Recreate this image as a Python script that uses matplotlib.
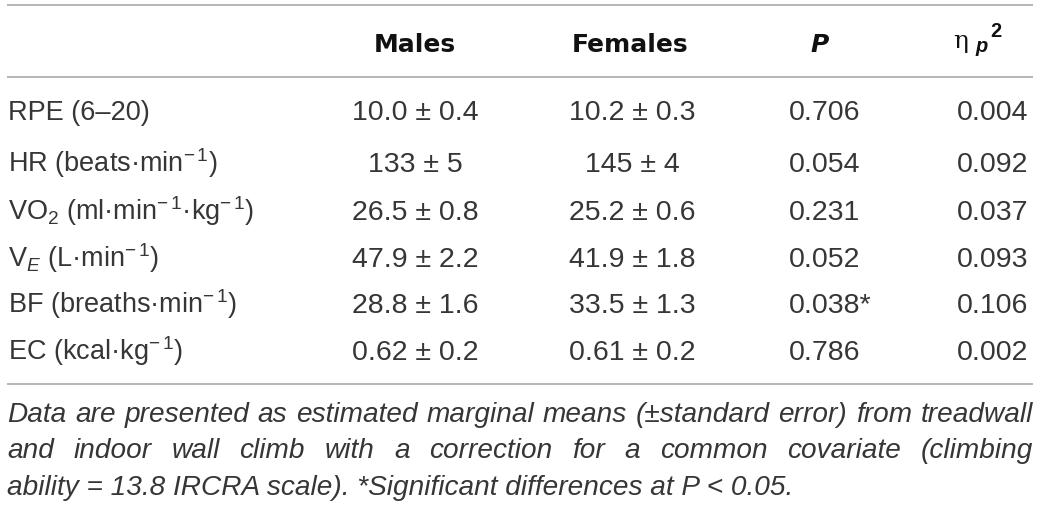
import matplotlib
matplotlib.use("Agg")
import matplotlib.pyplot as plt

plt.rcParams["font.family"] = ["Liberation Sans", "DejaVu Sans"]
plt.rcParams["mathtext.fontset"] = "custom"
plt.rcParams["mathtext.rm"] = "Liberation Sans"
plt.rcParams["mathtext.it"] = "Liberation Sans:italic"
plt.rcParams["mathtext.bf"] = "Liberation Sans:bold"

# ---------------- data ----------------
col_headers = ["Males", "Females", "P"]
row_labels = [
    "RPE (6–20)",
    r"HR (beats·min$^{-\,1}$)",
    r"VO$_2$ (ml·min$^{-\,1}$·kg$^{-\,1}$)",
    r"V$_E$ (L·min$^{-\,1}$)",
    r"BF (breaths·min$^{-\,1}$)",
    r"EC (kcal·kg$^{-\,1}$)",
]
males = ["10.0 ± 0.4", "133 ± 5", "26.5 ± 0.8", "47.9 ± 2.2", "28.8 ± 1.6", "0.62 ± 0.2"]
females = ["10.2 ± 0.3", "145 ± 4", "25.2 ± 0.6", "41.9 ± 1.8", "33.5 ± 1.3", "0.61 ± 0.2"]
p_values = ["0.706", "0.054", "0.231", "0.052", "0.038*", "0.786"]
eta_p2 = ["0.004", "0.092", "0.037", "0.093", "0.106", "0.002"]
caption_lines = [
    "Data are presented as estimated marginal means (±standard error) from treadwall",
    "and indoor wall climb with a correction for a common covariate (climbing",
    "ability = 13.8 IRCRA scale). *Significant differences at P < 0.05.",
]

# ---------------- layout ----------------
W, H = 1040, 508
fig = plt.figure(figsize=(W / 100, H / 100), dpi=100)
ax = fig.add_axes([0, 0, 1, 1])
ax.set_xlim(0, W)
ax.set_ylim(H, 0)
ax.axis("off")

TXT = "#363636"
HDR = "#111111"
LINE = "#b0b0b0"
LFS = 19.5   # row labels
VFS = 20.5   # values
HFS = 18     # headers
CFS = 20.2   # caption
left, right = 7, 1033
x_label = 8
x_males, x_females, x_p, x_eta = 415, 632, 789, 993
header_base = 52
row_base = [120, 172, 220, 267, 313, 360]
rule_y = [5, 77, 384]
cap_base = [422, 458, 495]

for y in rule_y:
    ax.plot([left, right], [y, y], color=LINE, lw=1.3, solid_capstyle="butt")

# headers
ax.text(415, header_base, col_headers[0], ha="center", va="baseline",
        fontsize=HFS, fontweight="bold", color=HDR, family="DejaVu Sans")
ax.text(630, header_base, col_headers[1], ha="center", va="baseline",
        fontsize=HFS, fontweight="bold", color=HDR, family="DejaVu Sans")
ax.text(820, header_base, col_headers[2], ha="center", va="baseline",
        fontsize=HFS, fontweight="bold", fontstyle="italic", color=HDR,
        family="DejaVu Sans")

renderer = fig.canvas.get_renderer()


def width_of(t):
    return t.get_window_extent(renderer).width


eta = ax.text(953, header_base - 4, "η", ha="left", va="baseline",
              fontsize=HFS, color=HDR, family="DejaVu Serif")
xe = 953 + width_of(eta) + 7
sub = ax.text(xe, header_base, "p", ha="left", va="baseline",
              fontsize=HFS * 0.8, fontweight="bold", fontstyle="italic", color=HDR)
xs = xe + width_of(sub) + 3
ax.text(xs, header_base - 15, "2", ha="left", va="baseline",
        fontsize=HFS * 0.8, fontweight="bold", color=HDR)

# body
for i, y in enumerate(row_base):
    ax.text(x_label, y, row_labels[i], ha="left", va="baseline", fontsize=LFS, color=TXT)
    ax.text(x_males, y, males[i], ha="center", va="baseline", fontsize=VFS, color=TXT)
    ax.text(x_females, y, females[i], ha="center", va="baseline", fontsize=VFS, color=TXT)
    ax.text(x_p, y, p_values[i], ha="left", va="baseline", fontsize=VFS, color=TXT)
    ax.text(x_eta, y, eta_p2[i], ha="center", va="baseline", fontsize=VFS, color=TXT)

# caption (justified except last line)
for li, line in enumerate(caption_lines):
    y = cap_base[li]
    if li == len(caption_lines) - 1:
        ax.text(left, y, line, ha="left", va="baseline", fontsize=CFS,
                fontstyle="italic", color=TXT)
        continue
    words = line.split(" ")
    tmp = [ax.text(0, y, w, ha="left", va="baseline", fontsize=CFS,
                   fontstyle="italic", color=TXT) for w in words]
    widths = [width_of(t) for t in tmp]
    gap = (right - left - sum(widths)) / (len(words) - 1)
    x = left
    for t, w in zip(tmp, widths):
        t.set_x(x)
        x += w + gap

fig.savefig("out.png", dpi=100)
